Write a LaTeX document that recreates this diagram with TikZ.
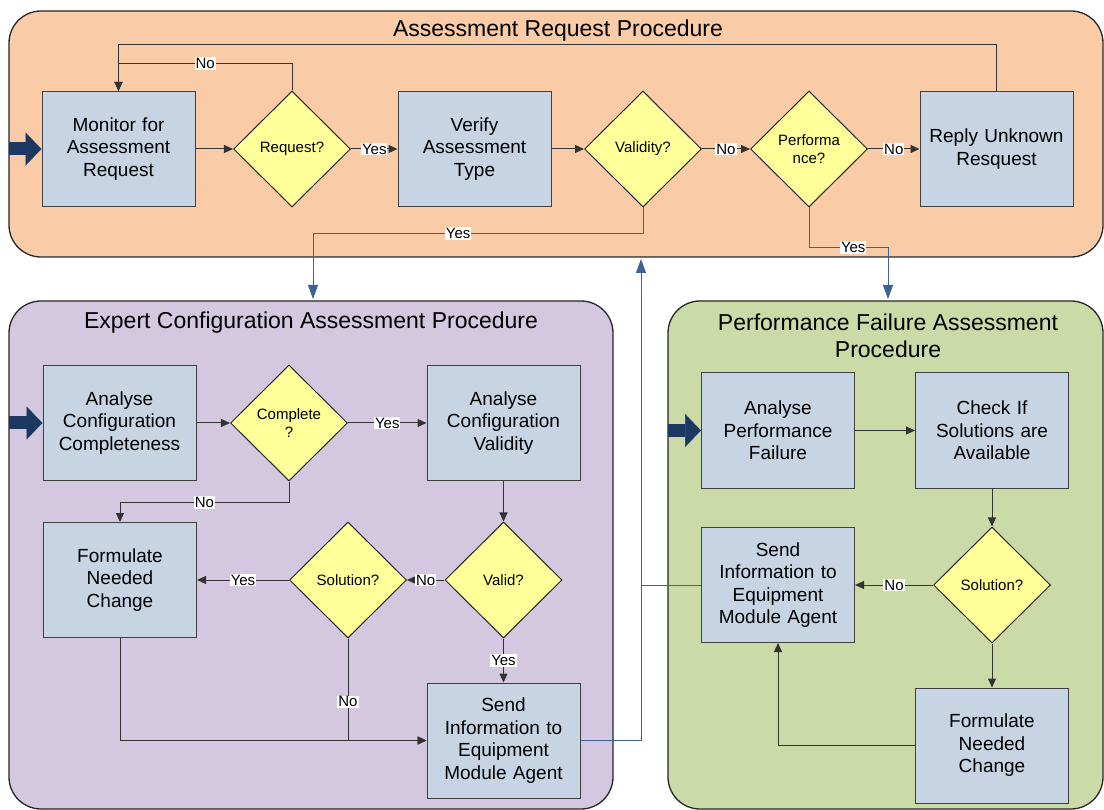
\documentclass[tikz,border=0pt]{standalone}
\usepackage{fontspec}
\setmainfont{Liberation Sans}
\usetikzlibrary{arrows.meta,shapes.geometric}
\definecolor{reqfill}{HTML}{F9CBA6}
\definecolor{ecfill}{HTML}{D3C8DF}
\definecolor{pffill}{HTML}{CCDAA8}
\definecolor{taskfill}{HTML}{C6D4E4}
\definecolor{decfill}{HTML}{FFFF99}
\definecolor{linkblue}{HTML}{3E6296}
\definecolor{entryblue}{HTML}{1C3860}

\begin{document}
\begin{tikzpicture}[
  x=1pt, y=-1pt,
  >={Triangle[length=9pt,width=8pt]},
  line width=1pt,
  panel/.style={draw=black!85,line width=1.3pt,rounded corners=32pt},
  panel title/.style={font=\fontsize{23}{27}\selectfont,align=center},
  task node/.style={rectangle,draw=black!75,fill=taskfill,minimum width=153pt,minimum height=115pt,text width=150pt,inner sep=0pt,align=center,font=\fontsize{19}{22.5}\selectfont},
  decision node/.style={diamond,draw=black!85,fill=decfill,minimum width=117pt,minimum height=116pt,inner sep=0pt,align=center,font=\fontsize{15}{18}\selectfont},
  flow/.style={draw=black!80,->},
  link/.style={draw=linkblue,-{Triangle[length=14pt,width=10pt]}},
  entry/.style={draw=entryblue,line width=13pt,-{Triangle[length=16pt,width=33pt,line width=0.5pt]}},
  edge label/.style={fill=white,inner sep=1pt,text=black,font=\fontsize{15}{17}\selectfont},
]
\useasboundingbox (0,0) rectangle (1104,810);
\draw[panel,fill=reqfill] (9,11) rectangle (1103,257);
\draw[panel,fill=ecfill] (9,301) rectangle (613,809);
\draw[panel,fill=pffill] (668,301) rectangle (1103,809);
\node[panel title] (reqTitle) at (558,31) {Assessment Request Procedure};
\node[panel title] (ecTitle) at (311,323) {Expert Configuration Assessment Procedure};
\node[panel title] (pfTitle) at (888,336) {Performance Failure Assessment\\Procedure};

\node[task node] (Monitor) at (118.5,149) {Monitor for\\Assessment\\Request};
\node[decision node] (Request) at (292,149) {Request?};
\node[task node] (Verify) at (474.5,149) {Verify\\Assessment\\Type};
\node[decision node] (Validity) at (643,149) {Validity?};
\node[decision node] (Perf) at (809,149) {Performa\\nce?};
\node[task node] (Reply) at (996.5,149) {Reply Unknown\\Resquest};

\node[task node] (ConfComplete) at (119.5,423) {Analyse\\Configuration\\Completeness};
\node[decision node] (Complete) at (289,423) {Complete\\?};
\node[task node] (ConfValid) at (503.5,423) {Analyse\\Configuration\\Validity};
\node[task node] (ChangeEC) at (120,580) {Formulate\\Needed\\Change};
\node[decision node] (SolutionEC) at (348,580) {Solution?};
\node[decision node] (Valid) at (503.5,580) {Valid?};
\node[task node] (SendEC) at (503.5,740.5) {Send\\Information to\\Equipment\\Module Agent};

\node[task node] (PerfFail) at (778,430.5) {Analyse\\Performance\\Failure};
\node[task node] (CheckSol) at (992,430.5) {Check If\\Solutions are\\Available};
\node[decision node] (SolutionPF) at (992,585) {Solution?};
\node[task node] (SendPF) at (778,585) {Send\\Information to\\Equipment\\Module Agent};
\node[task node] (ChangePF) at (992,745.5) {Formulate\\Needed\\Change};

\coordinate (monIn) at (9,149);
\coordinate (ecIn) at (9,423);
\coordinate (pfIn) at (668,430.5);
\coordinate (ecTop) at (313,299);
\coordinate (pfTop) at (888,299);
\coordinate (reqBottom) at (641,259);

\draw[entry] (monIn) -- (Monitor.west);
\draw[entry] (ecIn) -- (ConfComplete.west);
\draw[entry] (pfIn) -- (PerfFail.west);

\draw[flow] (Monitor) -- (Request);
\draw[flow] (Request) -- node[edge label,midway] {Yes} (Verify);
\draw[flow] (Verify) -- (Validity);
\draw[flow] (Validity) -- node[edge label,midway] {No} (Perf);
\draw[flow] (Perf) -- node[edge label,midway] {No} (Reply);
\draw[flow] (Request.north) -- ++(0,-27) -| node[edge label,pos=0.25] {No} (Monitor.north);
\draw[flow] (Reply.north) -- ++(0,-46) -| (Monitor.north);
\draw[link] (Validity.south) -- ++(0,26) -| node[edge label,pos=0.28] {Yes} (ecTop);
\draw[link] (Perf.south) -- ++(0,40) -| node[edge label,pos=0.28] {Yes} (pfTop);

\draw[flow] (ConfComplete) -- (Complete);
\draw[flow] (Complete) -- node[edge label,midway] {Yes} (ConfValid);
\draw[flow] (Complete.south) -- ++(0,21) -| node[edge label,pos=0.25] {No} (ChangeEC.north);
\draw[flow] (ConfValid) -- (Valid);
\draw[flow] (Valid) -- node[edge label,midway] {No} (SolutionEC);
\draw[flow] (SolutionEC) -- node[edge label,midway] {Yes} (ChangeEC);
\draw[flow] (Valid) -- node[edge label,midway] {Yes} (SendEC);
\draw[flow] (ChangeEC.south) |- (SendEC.west);
\draw[flow] (SolutionEC.south) |- node[edge label,pos=0.31] {No} (SendEC.west);

\draw[flow] (PerfFail) -- (CheckSol);
\draw[flow] (CheckSol) -- (SolutionPF);
\draw[flow] (SolutionPF) -- node[edge label,midway] {No} (SendPF);
\draw[flow] (SolutionPF) -- (ChangePF);
\draw[flow] (ChangePF.west) -| (SendPF.south);

\draw[link] (SendEC.east) -| (reqBottom);
\draw[draw=linkblue] (SendPF.west) -- (SendPF.west -| reqBottom);
\end{tikzpicture}
\end{document}
